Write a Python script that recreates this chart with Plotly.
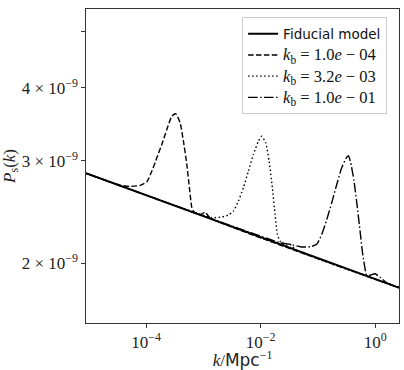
import plotly.graph_objects as go

# (k in Mpc^-1, P_s dimensionless)
k_fid = [8.9e-6, 2.65]
P_fid = [2.855e-9, 1.816e-9]

k_b1 = [8.97e-6, 2.35e-5, 3.52e-5, 5.26e-5, 7.86e-5, 1.03e-4, 1.257e-4, 1.537e-4,
        1.879e-4, 2.296e-4, 2.81e-4, 3.30e-4, 3.92e-4, 4.48e-4, 5.13e-4, 5.70e-4,
        6.28e-4, 6.89e-4, 8.75e-4, 1.07e-3, 1.31e-3, 2.60]
P_b1 = [2.854e-9, 2.760e-9, 2.724e-9, 2.711e-9, 2.722e-9, 2.762e-9, 2.879e-9, 3.036e-9,
        3.199e-9, 3.394e-9, 3.576e-9, 3.610e-9, 3.485e-9, 3.241e-9, 2.956e-9, 2.697e-9,
        2.493e-9, 2.449e-9, 2.425e-9, 2.447e-9, 2.394e-9, 1.818e-9]

k_b2 = [8.97e-6, 7.16e-4, 1.072e-3, 1.403e-3, 2.094e-3, 2.73e-3, 3.34e-3, 4.08e-3,
        4.99e-3, 6.10e-3, 7.46e-3, 9.12e-3, 1.045e-2, 1.228e-2, 1.403e-2, 1.600e-2,
        1.782e-2, 1.954e-2, 2.18e-2, 2.67e-2, 3.26e-2, 4.15e-2, 2.60]
P_b2 = [2.854e-9, 2.444e-9, 2.413e-9, 2.396e-9, 2.402e-9, 2.421e-9, 2.459e-9, 2.558e-9,
        2.697e-9, 2.879e-9, 3.076e-9, 3.241e-9, 3.305e-9, 3.221e-9, 2.995e-9, 2.697e-9,
        2.427e-9, 2.243e-9, 2.185e-9, 2.148e-9, 2.157e-9, 2.108e-9, 1.818e-9]

k_b3 = [8.97e-6, 2.18e-2, 3.26e-2, 4.88e-2, 7.28e-2, 9.53e-2, 0.1164, 0.1426, 0.1742,
        0.2128, 0.260, 0.3184, 0.342, 0.373, 0.4266, 0.4876, 0.5433, 0.6053, 0.700,
        0.75, 0.811, 0.993, 1.213, 1.589, 2.60]
P_b3 = [2.854e-9, 2.171e-9, 2.157e-9, 2.136e-9, 2.136e-9, 2.157e-9, 2.243e-9, 2.379e-9,
        2.542e-9, 2.732e-9, 2.918e-9, 3.043e-9, 3.057e-9, 2.977e-9, 2.768e-9, 2.493e-9,
        2.272e-9, 2.073e-9, 1.915e-9, 1.906e-9, 1.909e-9, 1.920e-9, 1.894e-9, 1.853e-9, 1.818e-9]

x_ticks = [1e-4, 1e-2, 1e0]
x_ticktext = ["10<sup>−4</sup>", "10<sup>−2</sup>", "10<sup>0</sup>"]
y_ticks = [2e-9, 3e-9, 4e-9, 5e-9]
y_ticktext = ["2 × 10<sup>−9</sup>", "3 × 10<sup>−9</sup>", "4 × 10<sup>−9</sup>", ""]

SERIF = "Liberation Serif"
SANS = "DejaVu Sans"


def kb_label(mant, exp):
    return f'<span style="font-size:16.5px"><i>k</i><sub>b</sub> = {mant}<i>e</i> − {exp}</span>'


fig = go.Figure()
fig.add_trace(go.Scatter(x=k_fid, y=P_fid, mode="lines",
                         name=f'<span style="font-family:{SANS};font-size:13.5px">Fiducial model</span>',
                         line=dict(color="black", width=2)))
fig.add_trace(go.Scatter(x=k_b1, y=P_b1, mode="lines", name=kb_label("1.0", "04"),
                         line=dict(color="black", width=1.4, dash="5.5px,2.4px", shape="spline", smoothing=0.5)))
fig.add_trace(go.Scatter(x=k_b2, y=P_b2, mode="lines", name=kb_label("3.2", "03"),
                         line=dict(color="black", width=1.4, dash="1.5px,2.5px", shape="spline", smoothing=0.5)))
fig.add_trace(go.Scatter(x=k_b3, y=P_b3, mode="lines", name=kb_label("1.0", "01"),
                         line=dict(color="black", width=1.4, dash="9.6px,2.4px,1.5px,2.4px", shape="spline", smoothing=0.5)))

axis_common = dict(type="log", showgrid=False, zeroline=False, showline=True, mirror=True,
                   linecolor="#333", linewidth=1.2, ticks="outside", ticklen=3.5,
                   tickcolor="#333", automargin=False,
                   tickfont=dict(family=SERIF, size=17, color="#222"))

fig.update_xaxes(range=[-5.05, 0.415], tickvals=x_ticks, ticktext=x_ticktext,
                 title=dict(text=f'<i>k</i>/<span style="font-family:{SANS}">Mpc</span><sup>−1</sup>',
                            font=dict(family=SERIF, size=17, color="#222"), standoff=2),
                 **axis_common)
fig.update_yaxes(range=[-8.8011, -8.2627], tickvals=y_ticks, ticktext=y_ticktext, **axis_common)

# y label as annotation so it sits left of the tick labels
fig.add_annotation(text="<i>P</i><sub>s</sub>(<i>k</i>)", xref="paper", yref="paper",
                   x=-0.24, y=0.5, xanchor="center", yanchor="middle", textangle=-90,
                   showarrow=False, font=dict(family=SERIF, size=17, color="#222"))

fig.update_layout(
    width=404, height=370,
    margin=dict(l=86, r=5, t=9, b=47),
    plot_bgcolor="white", paper_bgcolor="white",
    legend=dict(x=0.962, y=0.974, xanchor="right", yanchor="top", itemwidth=30,
                bgcolor="rgba(255,255,255,0.85)", bordercolor="#ccc", borderwidth=1,
                font=dict(family=SERIF, size=14, color="#111")),
)

# drop the default body margin so the figure fills the window
fig.write_html("out.html", config={"displayModeBar": False},
               post_script="document.body.style.margin='0px';")
